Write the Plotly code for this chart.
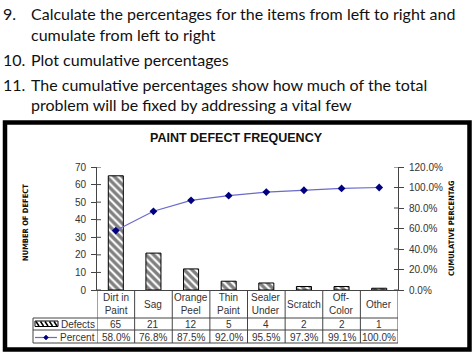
import plotly.graph_objects as go

# ---------------- data ----------------
categories = ["Dirt in Paint", "Sag", "Orange Peel", "Thin Paint",
              "Sealer Under", "Scratch", "Off-Color", "Other"]
category_labels = ["Dirt in<br>Paint", "Sag", "Orange<br>Peel", "Thin<br>Paint",
                   "Sealer<br>Under", "Scratch", "Off-<br>Color", "Other"]
defects = [65, 21, 12, 5, 4, 2, 2, 1]
cum_percent = [58.0, 76.8, 87.5, 92.0, 95.5, 97.3, 99.1, 100.0]
left_ticks = [0, 10, 20, 30, 40, 50, 60, 70]
right_ticks = [0, 20, 40, 60, 80, 100, 120]
slide_lines = [
    ("9.", "Calculate the percentages for the items from left to right and"),
    ("", "cumulate from left to right"),
    ("10.", "Plot cumulative percentages"),
    ("11.", "The cumulative percentages show how much of the total"),
    ("", "problem will be fixed by addressing a vital few"),
]
chart_title = "PAINT DEFECT FREQUENCY"
left_title = "NUMBER OF DEFECT"
right_title = "CUMULATIVE PERCENTAG"

# ---------------- layout helpers ----------------
W, H = 474, 355
L, R, T, B = 97, 398, 167, 290
PAD = 3.5  # annotation box inner offset


def px(x):
    return (x - L) / (R - L)


def py(y):
    return (B - y) / (B - T)


AX = "#444444"
TXT = "#333333"
ARIAL = "Arial, Liberation Sans, sans-serif"
NARROW = "Liberation Sans Narrow, Arial Narrow, DejaVu Sans Condensed, sans-serif"
SLIDE = "Lato, sans-serif"

fig = go.Figure()

fig.add_trace(go.Bar(
    x=categories, y=defects, name="Defects", width=0.4,
    marker=dict(color="white", line=dict(color="black", width=1),
                pattern=dict(shape="\\", fgcolor="black", bgcolor="white",
                             size=5.5, solidity=0.6)),
    showlegend=False,
))
fig.add_trace(go.Scatter(
    x=categories, y=cum_percent, name="Percent", yaxis="y2",
    mode="lines+markers",
    line=dict(color="#6a6acc", width=1.2),
    marker=dict(symbol="diamond", size=6, color="#000080"),
    showlegend=False,
))

shapes = []
annotations = []

# outer chart frame
shapes.append(dict(type="rect", xref="paper", yref="paper",
                   x0=px(5), x1=px(469.5), y0=py(122.5), y1=py(349.5),
                   line=dict(color="black", width=4.5), layer="below"))

# inside half of the cross tick marks
for v in left_ticks:
    shapes.append(dict(type="line", xref="paper", yref="y",
                       x0=0, x1=px(L + 4), y0=v, y1=v,
                       line=dict(color=AX, width=1)))
for v in right_ticks:
    shapes.append(dict(type="line", xref="paper", yref="y2",
                       x0=1, x1=px(R - 4), y0=v, y1=v,
                       line=dict(color=AX, width=1)))

# data table grid
for yy in (318, 330, 343):
    shapes.append(dict(type="line", xref="paper", yref="paper",
                       x0=px(33), x1=px(R), y0=py(yy), y1=py(yy),
                       line=dict(color=AX, width=1)))
shapes.append(dict(type="line", xref="paper", yref="paper",
                   x0=px(33), x1=px(33), y0=py(318), y1=py(343),
                   line=dict(color=AX, width=1)))
for i in range(len(categories) + 1):
    shapes.append(dict(type="line", xref="x", yref="paper",
                       x0=i - 0.5, x1=i - 0.5, y0=py(B), y1=py(343),
                       line=dict(color=AX, width=1)))

# legend keys in table
shapes.append(dict(type="rect", xref="paper", yref="paper",
                   x0=px(35), x1=px(58), y0=py(321), y1=py(326.5),
                   line=dict(color="black", width=1), fillcolor="white"))
for k in range(5):
    x0 = 36 + k * 4.5
    shapes.append(dict(type="line", xref="paper", yref="paper",
                       x0=px(x0), x1=px(x0 + 3), y0=py(321.5), y1=py(326),
                       line=dict(color="black", width=1.5)))
shapes.append(dict(type="line", xref="paper", yref="paper",
                   x0=px(35), x1=px(57), y0=py(337.5), y1=py(337.5),
                   line=dict(color="#6a6acc", width=1.2)))
shapes.append(dict(type="path", xref="paper", yref="paper",
                   path=f"M {px(46)} {py(335)} L {px(48.5)} {py(337.5)} "
                        f"L {px(46)} {py(340)} L {px(43.5)} {py(337.5)} Z",
                   fillcolor="#000080", line=dict(color="#000080", width=0.5)))

annotations.append(dict(xref="paper", yref="paper", x=px(93 + PAD), y=py(324),
                        text="Defects", showarrow=False, xanchor="right",
                        yanchor="middle", font=dict(family=ARIAL, size=10, color=TXT)))
annotations.append(dict(xref="paper", yref="paper", x=px(93 + PAD), y=py(337.5),
                        text="Percent", showarrow=False, xanchor="right",
                        yanchor="middle", font=dict(family=ARIAL, size=10, color=TXT)))

for i, c in enumerate(categories):
    annotations.append(dict(xref="x", yref="paper", x=c, y=py(304),
                            text=category_labels[i], showarrow=False,
                            xanchor="center", yanchor="middle",
                            font=dict(family=ARIAL, size=10, color=TXT)))
    annotations.append(dict(xref="x", yref="paper", x=c, y=py(324),
                            text=str(defects[i]), showarrow=False,
                            xanchor="center", yanchor="middle",
                            font=dict(family=ARIAL, size=10, color=TXT)))
    annotations.append(dict(xref="x", yref="paper", x=c, y=py(337.5),
                            text=f"{cum_percent[i]:.1f}%", showarrow=False,
                            xanchor="center", yanchor="middle",
                            font=dict(family=ARIAL, size=10, color=TXT)))

# chart title and axis titles
annotations.append(dict(xref="paper", yref="paper", x=px(236.5), y=py(138),
                        text=f"<b>{chart_title}</b>", showarrow=False,
                        xanchor="center", yanchor="middle",
                        font=dict(family=ARIAL, size=12.5, color="#111111")))
annotations.append(dict(xref="paper", yref="paper", x=px(25), y=py(223),
                        text=f"<b>{left_title}</b>", showarrow=False, textangle=-90,
                        xanchor="center", yanchor="middle",
                        font=dict(family=NARROW, size=7.5, color="#111111")))
annotations.append(dict(xref="paper", yref="paper", x=px(451), y=py(228),
                        text=f"<b>{right_title}</b>", showarrow=False, textangle=-90,
                        xanchor="center", yanchor="middle",
                        font=dict(family=NARROW, size=7.5, color="#111111")))

# slide bullet text
line_y = [14, 34.5, 59.5, 84.5, 104.5]
for (num, txt), yy in zip(slide_lines, line_y):
    if num:
        annotations.append(dict(xref="paper", yref="paper", x=px(5 - PAD), y=py(yy),
                                text=num, showarrow=False, xanchor="left",
                                yanchor="middle",
                                font=dict(family=SLIDE, size=16, color="#111111")))
    annotations.append(dict(xref="paper", yref="paper", x=px(32 - PAD), y=py(yy),
                            text=txt, showarrow=False, xanchor="left",
                            yanchor="middle",
                            font=dict(family=SLIDE, size=16, color="#111111")))

fig.update_layout(
    width=W, height=H,
    margin=dict(l=L, r=W - R, t=T, b=H - B),
    paper_bgcolor="white", plot_bgcolor="white",
    showlegend=False,
    xaxis=dict(type="category", range=[-0.5, len(categories) - 0.5],
               showline=True, linecolor=AX, linewidth=1,
               showticklabels=False, ticks="", showgrid=False, zeroline=False),
    yaxis=dict(range=[0, 70], tickvals=left_ticks, showline=True, linecolor=AX,
               linewidth=1, ticks="outside", ticklen=5, tickcolor=AX,
               showgrid=False, zeroline=False, ticklabelstandoff=3,
               tickfont=dict(family=ARIAL, size=10, color=TXT)),
    yaxis2=dict(range=[0, 120], tickvals=right_ticks,
                ticktext=[f"{v:.1f}%" for v in right_ticks],
                overlaying="y", side="right",
                showline=True, linecolor=AX, linewidth=1, ticks="outside",
                ticklen=5, tickcolor=AX, showgrid=False, zeroline=False,
                ticklabelstandoff=3,
                tickfont=dict(family=ARIAL, size=10, color=TXT)),
    shapes=shapes,
    annotations=annotations,
)

fig.write_html("out.html")
